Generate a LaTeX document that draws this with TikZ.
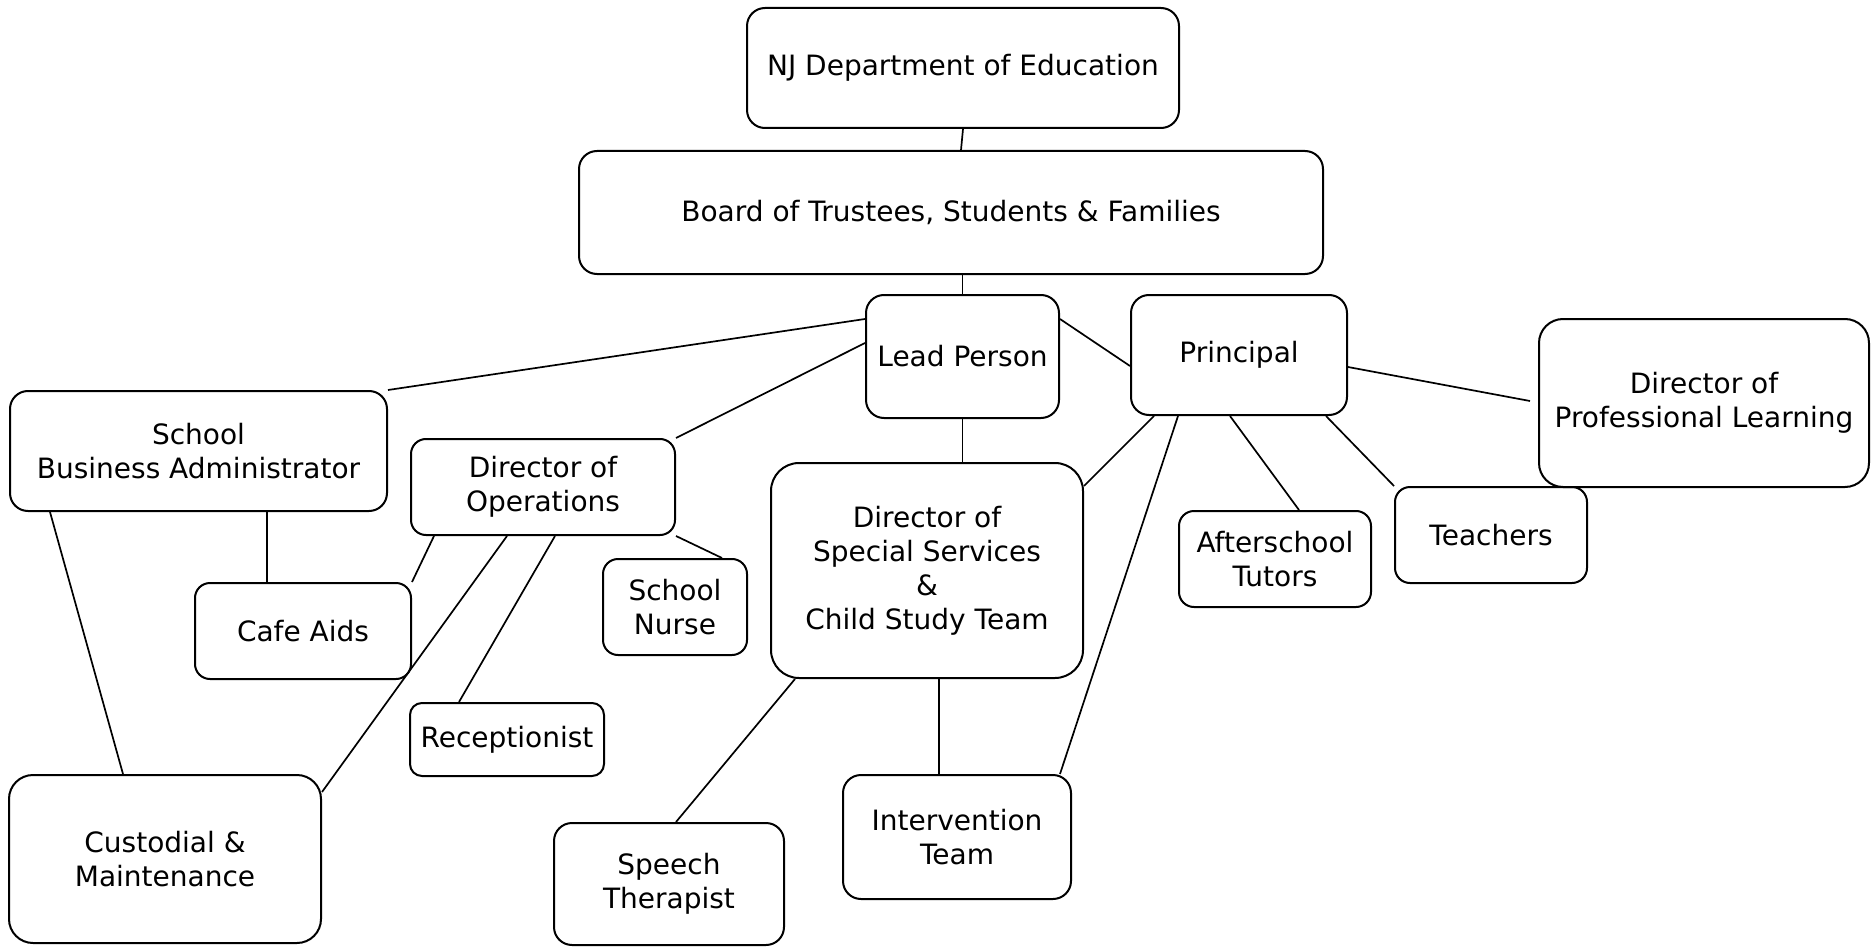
\documentclass[tikz,border=0pt]{standalone}
\usepackage{fontspec}
\setmainfont{DejaVu Sans}
\begin{document}
\begin{tikzpicture}[x=1pt,y=-1pt,
  box/.style={draw=black, line width=2pt, rounded corners=18pt, align=center, inner sep=0pt, font=\fontsize{28}{34}\selectfont},
  link/.style={draw=black, line width=1.7pt}]
\useasboundingbox (0,0) rectangle (1875,947);
\node[box, minimum width=432pt, minimum height=120pt] (nj) at (963,68) {NJ Department of Education};
\node[box, minimum width=744pt, minimum height=123pt] (board) at (951,212.5) {Board of Trustees, Students \& Families};
\node[box, minimum width=193pt, minimum height=123pt] (lead) at (962.5,356.5) {Lead Person};
\node[box, minimum width=216pt, minimum height=120pt] (principal) at (1239,355) {Principal};
\node[box, minimum width=330pt, minimum height=168pt, rounded corners=24pt] (profdir) at (1704,403) {Director of\\Professional Learning};
\node[box, minimum width=377pt, minimum height=120pt] (busadmin) at (198.5,451) {School\\Business Administrator};
\node[box, minimum width=264pt, minimum height=96pt, rounded corners=15pt] (opsdir) at (543,487) {Director of\\Operations};
\node[box, minimum width=216pt, minimum height=96pt, rounded corners=15pt] (cafe) at (303,631) {Cafe Aids};
\node[box, minimum width=144pt, minimum height=96pt, rounded corners=15pt] (nurse) at (675,607) {School\\Nurse};
\node[box, minimum width=312pt, minimum height=215pt, rounded corners=28pt] (specdir) at (927,570.5) {Director of\\Special Services\\\&\\Child Study Team};
\node[box, minimum width=192pt, minimum height=96pt, rounded corners=15pt] (tutors) at (1275,559) {Afterschool\\Tutors};
\node[box, minimum width=192pt, minimum height=96pt, rounded corners=15pt] (teachers) at (1491,535) {Teachers};
\node[box, minimum width=194pt, minimum height=73pt, rounded corners=12pt] (recept) at (507,739.5) {Receptionist};
\node[box, minimum width=312pt, minimum height=168pt, rounded corners=24pt] (custodial) at (165,859) {Custodial \&\\Maintenance};
\node[box, minimum width=230pt, minimum height=122pt] (speech) at (669,884) {Speech\\Therapist};
\node[box, minimum width=228pt, minimum height=124pt] (interv) at (957,837) {Intervention\\Team};
\draw[link] (nj.south) -- ([xshift=-2pt]nj.south |- board.north);
\draw[link] (lead.north) -- (lead.north |- board.south);
\draw[link] ([yshift=37.5pt]lead.west) -- (busadmin.north east);
\draw[link] ([yshift=13.5pt]lead.west) -- (opsdir.north east);
\draw[link] ([yshift=37.5pt]lead.east) -- ([yshift=-11pt]principal.west);
\draw[link] (lead.south) -- (lead.south |- specdir.north);
\draw[link] ([yshift=-12pt]principal.east) -- ([xshift=-8pt,yshift=2pt]profdir.west);
\draw[link] ([xshift=-22pt]principal.south east) -- (teachers.north west);
\draw[link] ([xshift=-9pt]principal.south) -- ([xshift=24pt]tutors.north);
\draw[link] ([xshift=48pt]principal.south west) -- ([xshift=-12pt]interv.north east);
\draw[link] ([xshift=24pt]principal.south west) -- ([yshift=-24pt]specdir.north east);
\draw[link] ([xshift=12pt]specdir.south) -- ([xshift=12pt]specdir.south |- interv.north);
\draw[link] ([xshift=25pt]specdir.south west) -- ([xshift=7pt]speech.north);
\draw[link] ([xshift=-36pt]cafe.north) -- ([xshift=-36pt]cafe.north |- busadmin.south);
\draw[link] ([xshift=41pt]busadmin.south west) -- ([xshift=-42pt]custodial.north);
\draw[link] ([xshift=24pt]opsdir.south west) -- (cafe.north east);
\draw[link] ([xshift=-36pt]opsdir.south) -- ([yshift=-18pt]custodial.north east);
\draw[link] ([xshift=12pt]opsdir.south) -- ([xshift=-48pt]recept.north);
\draw[link] (opsdir.south east) -- ([xshift=-26pt]nurse.north east);
\end{tikzpicture}
\end{document}
